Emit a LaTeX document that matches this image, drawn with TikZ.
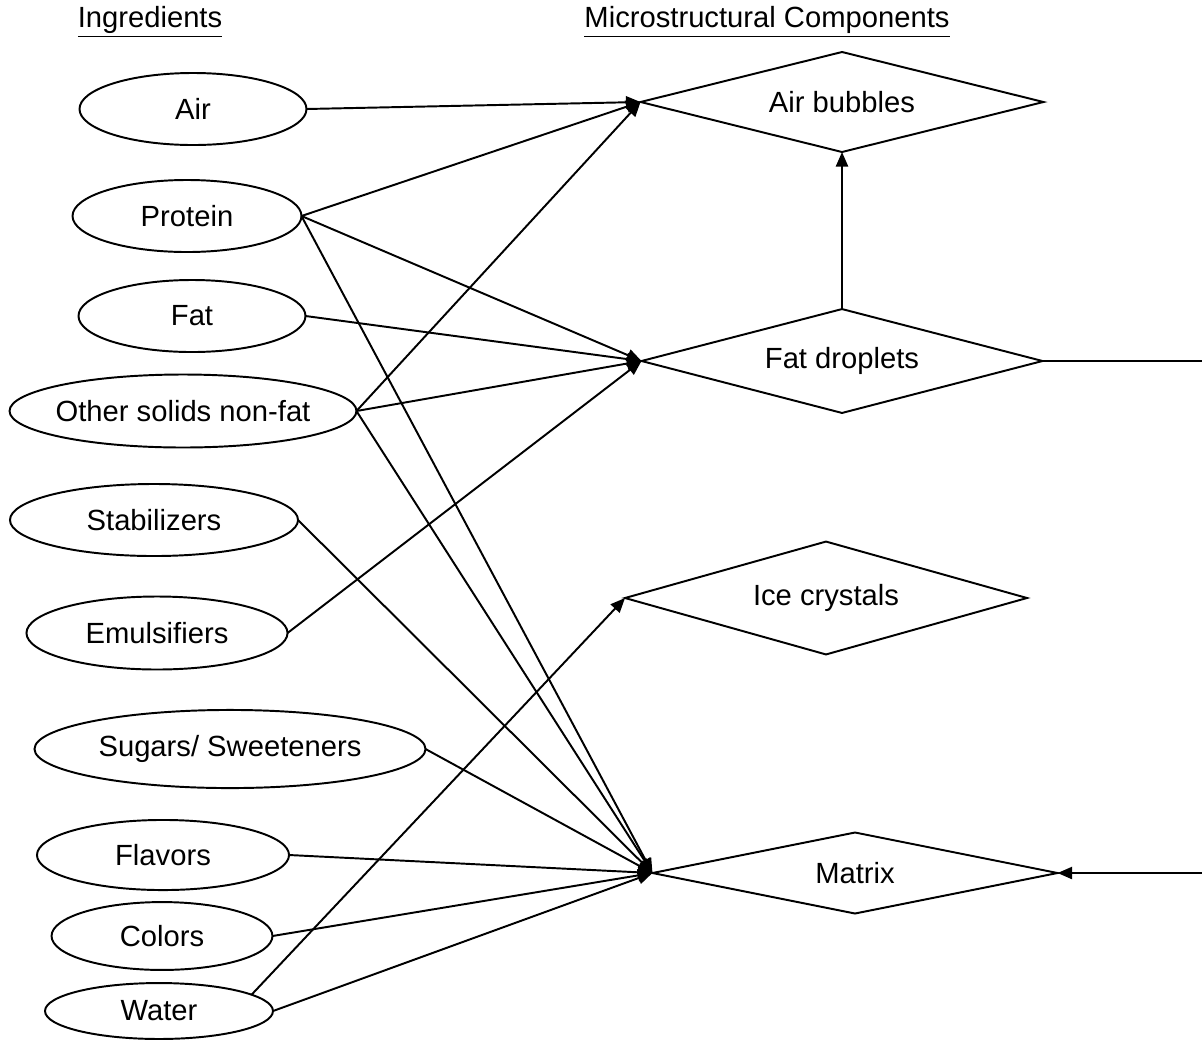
\documentclass[tikz,border=0pt]{standalone}
\usepackage{fontspec}
\setmainfont{Liberation Sans}
\usetikzlibrary{arrows.meta,positioning,shapes.geometric}

\tikzset{
  ingr/.style={draw,ellipse,line width=0.8pt,inner xsep=-3pt,inner ysep=0pt,outer sep=0pt},
  comp/.style={draw,diamond,aspect=4,line width=0.8pt,inner sep=0pt,outer sep=0pt},
  link/.style={-{Triangle[length=6pt,width=5pt]},line width=0.8pt},
}

\begin{document}
\begin{tikzpicture}[x=0.411pt,y=-0.411pt,font=\fontsize{12}{14}\selectfont]
  \useasboundingbox (0,0) rectangle (1202,1041);
  % Headings
  \node (ingrhead) at (150,22) {\underline{Ingredients}};
  \node (comphead) at (767,22) {\underline{Microstructural Components}};
  % Ingredients
  \node[ingr,minimum width=93.3pt,minimum height=29.6pt] (air) at (193,109) {Air};
  \node[ingr,minimum width=94.1pt,minimum height=29.6pt] (protein) at (187,216) {Protein};
  \node[ingr,minimum width=93.3pt,minimum height=29.6pt] (fat) at (192,316) {Fat};
  \node[ingr,minimum width=142.6pt,minimum height=30pt] (solids) at (183,411) {Other solids non-fat};
  \node[ingr,minimum width=118.4pt,minimum height=29.6pt] (stab) at (154,520) {Stabilizers};
  \node[ingr,minimum width=107.3pt,minimum height=30pt] (emul) at (157,633) {Emulsifiers};
  \node[ingr,minimum width=160.7pt,minimum height=32.1pt] (sugars) at (230,749) {Sugars/ Sweeteners};
  \node[ingr,minimum width=103.6pt,minimum height=28.8pt] (flavors) at (163,855) {Flavors};
  \node[ingr,minimum width=90.8pt,minimum height=27.9pt] (colors) at (162,936) {Colors};
  \node[ingr,minimum width=93.7pt,minimum height=23pt] (water) at (159,1011) {Water};
  % Components
  \node[comp,minimum width=165.6pt,minimum height=41.1pt] (bubbles) at (842,102) {Air bubbles};
  \node[comp,minimum width=164.8pt,minimum height=42.7pt] (droplets) at (842,361) {Fat droplets};
  \node[comp,minimum width=165.2pt,minimum height=46.4pt] (crystals) at (826,598) {Ice crystals};
  \node[comp,minimum width=166.5pt,minimum height=33.3pt] (matrix) at (855,873) {Matrix};
  \coordinate (outtop) at (1202,361);
  \coordinate (outbot) at (1202,873);
  % Ingredient links
  \foreach \from/\to in {air/bubbles,protein/bubbles,protein/droplets,protein/matrix,
      fat/droplets,solids/bubbles,solids/droplets,solids/matrix,stab/matrix,
      emul/droplets,sugars/matrix,flavors/matrix,colors/matrix,water/matrix}
    \draw[link] (\from.east) -- (\to.west);
  \draw[link] (water.10) -- (crystals.west);
  % Between components
  \draw[link] (droplets.north) -- (bubbles.south);
  \draw[line width=0.8pt] (droplets.east) -- (outtop);
  \draw[link] (outbot) -- (matrix.east);
\end{tikzpicture}
\end{document}
